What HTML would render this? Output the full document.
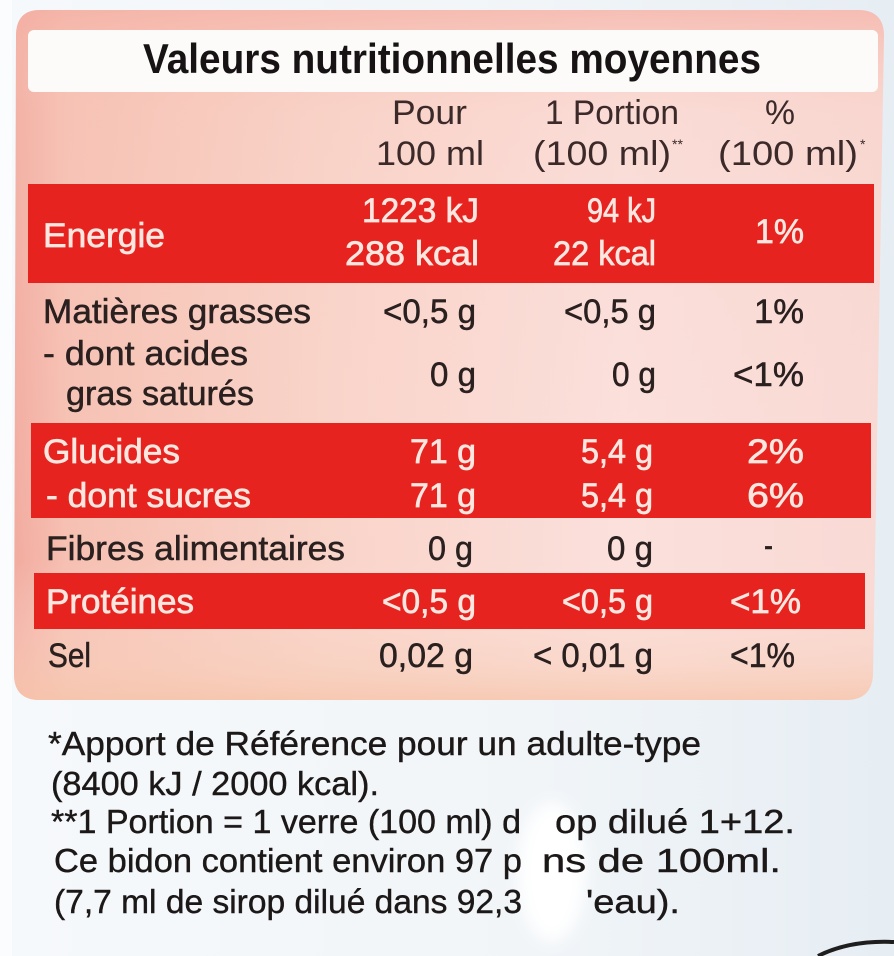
<!DOCTYPE html>
<html>
<head>
<meta charset="utf-8">
<style>
  html,body{margin:0;padding:0;background:#eef3f7;}
  svg{display:block;}
  text{font-family:"Liberation Sans", sans-serif;}
</style>
</head>
<body>
<svg width="894" height="956" viewBox="0 0 894 956" xmlns="http://www.w3.org/2000/svg">
  <defs>
    <linearGradient id="lh" x1="0" y1="0" x2="1" y2="0">
      <stop offset="0" stop-color="#f2ab9f"/>
      <stop offset="0.06" stop-color="#f6c0b2"/>
      <stop offset="0.35" stop-color="#f9d3c8"/>
      <stop offset="0.7" stop-color="#fbe0dc"/>
      <stop offset="1" stop-color="#f9d9d4"/>
    </linearGradient>
    <linearGradient id="lv" x1="0" y1="0" x2="0" y2="1">
      <stop offset="0" stop-color="#f4b0a4" stop-opacity="0.7"/>
      <stop offset="0.15" stop-color="#f8cbbf" stop-opacity="0.2"/>
      <stop offset="0.8" stop-color="#fbe2dd" stop-opacity="0"/>
      <stop offset="0.95" stop-color="#f8d0bb" stop-opacity="0.5"/>
      <stop offset="1" stop-color="#f6c6ac" stop-opacity="0.8"/>
    </linearGradient>
    <linearGradient id="bgv" x1="0" y1="0" x2="1" y2="0">
      <stop offset="0" stop-color="#f6f9fb"/>
      <stop offset="0.6" stop-color="#f1f5f8"/>
      <stop offset="1" stop-color="#e6edf3"/>
    </linearGradient>
    <filter id="blur" x="-50%" y="-50%" width="200%" height="200%"><feGaussianBlur stdDeviation="8"/></filter>
  </defs>

  <!-- outer background -->
  <rect x="0" y="0" width="894" height="956" fill="url(#bgv)"/>
  <rect x="0" y="0" width="12" height="956" fill="#fbfcfd"/>

  <!-- label background -->
  <path d="M40 10 L858 10 Q884 10 884 36 L873 674 Q872 700 846 700 L40 700 Q14 700 14 674 L16 36 Q16 10 40 10 Z" fill="url(#lh)"/>
  <path d="M40 10 L858 10 Q884 10 884 36 L873 674 Q872 700 846 700 L40 700 Q14 700 14 674 L16 36 Q16 10 40 10 Z" fill="url(#lv)"/>

  <!-- title box -->
  <rect x="28" y="30" width="850" height="62" rx="6" fill="#fdfbfa"/>

  <!-- red bands -->
  <rect x="28" y="184" width="846" height="99" fill="#e6231f"/>
  <rect x="31" y="423" width="840" height="95" fill="#e6231f"/>
  <rect x="34" y="573" width="831" height="56" fill="#e6231f"/>

  <!-- title -->
  <text x="143" y="73" font-size="42" font-weight="bold" fill="#171314" textLength="618" lengthAdjust="spacingAndGlyphs">Valeurs nutritionnelles moyennes</text>

  <!-- headers -->
  <g font-size="34" fill="#3b2a29">
    <text x="392" y="124" textLength="75" lengthAdjust="spacingAndGlyphs">Pour</text>
    <text x="545" y="124" textLength="134" lengthAdjust="spacingAndGlyphs">1 Portion</text>
    <text x="765" y="124" textLength="30" lengthAdjust="spacingAndGlyphs">%</text>
    <text x="376" y="165" textLength="108" lengthAdjust="spacingAndGlyphs">100 ml</text>
    <text x="533" y="165" textLength="138" lengthAdjust="spacingAndGlyphs">(100 ml)</text>
    <text x="672" y="149" font-size="14" textLength="11" lengthAdjust="spacingAndGlyphs">**</text>
    <text x="718" y="165" textLength="140" lengthAdjust="spacingAndGlyphs">(100 ml)</text>
    <text x="860" y="149" font-size="14">*</text>
  </g>

  <!-- red band text -->
  <g font-size="34" fill="#fce6e0" stroke="#fce6e0" stroke-width="0.7">
    <text x="43" y="247" textLength="122" lengthAdjust="spacingAndGlyphs">Energie</text>
    <text x="362" y="222" textLength="117" lengthAdjust="spacingAndGlyphs">1223 kJ</text>
    <text x="345" y="265" textLength="134" lengthAdjust="spacingAndGlyphs">288 kcal</text>
    <text x="587" y="222" textLength="69" lengthAdjust="spacingAndGlyphs">94 kJ</text>
    <text x="553" y="265" textLength="103" lengthAdjust="spacingAndGlyphs">22 kcal</text>
    <text x="755" y="243" textLength="49" lengthAdjust="spacingAndGlyphs">1%</text>

    <text x="43" y="463" textLength="137" lengthAdjust="spacingAndGlyphs">Glucides</text>
    <text x="410" y="463" textLength="66" lengthAdjust="spacingAndGlyphs">71 g</text>
    <text x="581" y="463" textLength="72" lengthAdjust="spacingAndGlyphs">5,4 g</text>
    <text x="747" y="463" textLength="57" lengthAdjust="spacingAndGlyphs">2%</text>
    <text x="46" y="507" textLength="205" lengthAdjust="spacingAndGlyphs">- dont sucres</text>
    <text x="410" y="507" textLength="66" lengthAdjust="spacingAndGlyphs">71 g</text>
    <text x="581" y="507" textLength="72" lengthAdjust="spacingAndGlyphs">5,4 g</text>
    <text x="747" y="507" textLength="57" lengthAdjust="spacingAndGlyphs">6%</text>

    <text x="46" y="613" textLength="148" lengthAdjust="spacingAndGlyphs">Protéines</text>
    <text x="382" y="613" textLength="94" lengthAdjust="spacingAndGlyphs">&lt;0,5 g</text>
    <text x="562" y="613" textLength="91" lengthAdjust="spacingAndGlyphs">&lt;0,5 g</text>
    <text x="730" y="613" textLength="71" lengthAdjust="spacingAndGlyphs">&lt;1%</text>
  </g>

  <!-- dark body text -->
  <g font-size="34" fill="#2a201f" stroke="#2a201f" stroke-width="0.5">
    <text x="43" y="323" textLength="268" lengthAdjust="spacingAndGlyphs">Matières grasses</text>
    <text x="383" y="323" textLength="93" lengthAdjust="spacingAndGlyphs">&lt;0,5 g</text>
    <text x="564" y="323" textLength="92" lengthAdjust="spacingAndGlyphs">&lt;0,5 g</text>
    <text x="754" y="323" textLength="50" lengthAdjust="spacingAndGlyphs">1%</text>
    <text x="43" y="365" textLength="205" lengthAdjust="spacingAndGlyphs">- dont acides</text>
    <text x="66" y="405" textLength="188" lengthAdjust="spacingAndGlyphs">gras saturés</text>
    <text x="430" y="386" textLength="46" lengthAdjust="spacingAndGlyphs">0 g</text>
    <text x="612" y="386" textLength="44" lengthAdjust="spacingAndGlyphs">0 g</text>
    <text x="733" y="386" textLength="71" lengthAdjust="spacingAndGlyphs">&lt;1%</text>

    <text x="46" y="560" textLength="299" lengthAdjust="spacingAndGlyphs">Fibres alimentaires</text>
    <text x="428" y="560" textLength="45" lengthAdjust="spacingAndGlyphs">0 g</text>
    <text x="607" y="560" textLength="46" lengthAdjust="spacingAndGlyphs">0 g</text>
    <text x="764" y="557" textLength="9" lengthAdjust="spacingAndGlyphs">-</text>

    <text x="48" y="667" textLength="43" lengthAdjust="spacingAndGlyphs">Sel</text>
    <text x="379" y="667" textLength="94" lengthAdjust="spacingAndGlyphs">0,02 g</text>
    <text x="533" y="667" textLength="120" lengthAdjust="spacingAndGlyphs">&lt; 0,01 g</text>
    <text x="730" y="667" textLength="65" lengthAdjust="spacingAndGlyphs">&lt;1%</text>
  </g>

  <!-- glare (soft) -->
  <ellipse cx="552" cy="872" rx="34" ry="70" fill="#ffffff" filter="url(#blur)"/>

  <!-- footnotes -->
  <g font-size="33" fill="#1c1818" stroke="#1c1818" stroke-width="0.4">
    <text x="48" y="755" textLength="653" lengthAdjust="spacingAndGlyphs">*Apport de Référence pour un adulte-type</text>
    <text x="51" y="795" textLength="328" lengthAdjust="spacingAndGlyphs">(8400 kJ / 2000 kcal).</text>
    <text x="51" y="833" textLength="470" lengthAdjust="spacingAndGlyphs">**1 Portion = 1 verre (100 ml) d</text>
    <text x="555" y="833" textLength="240" lengthAdjust="spacingAndGlyphs">op dilué 1+12.</text>
    <text x="54" y="872" textLength="468" lengthAdjust="spacingAndGlyphs">Ce bidon contient environ 97 p</text>
    <text x="542" y="872" textLength="239" lengthAdjust="spacingAndGlyphs">ns de 100ml.</text>
    <text x="54" y="913" textLength="468" lengthAdjust="spacingAndGlyphs">(7,7 ml de sirop dilué dans 92,3</text>
    <text x="586" y="913" textLength="94" lengthAdjust="spacingAndGlyphs">'eau).</text>
  </g>

  <!-- bottom right dark curve -->
  <path d="M818 956 Q850 940 894 942" stroke="#1e1e1e" stroke-width="4" fill="none"/>
</svg>
</body>
</html>
